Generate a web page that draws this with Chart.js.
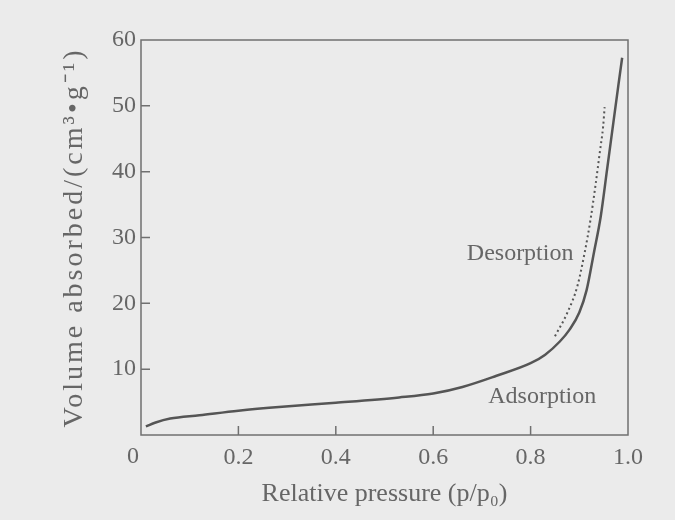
<!DOCTYPE html>
<html><head><meta charset="utf-8">
<script src="https://cdn.jsdelivr.net/npm/chart.js@4.4.1/dist/chart.umd.min.js"></script>
<style>html,body{margin:0;padding:0;background:#ebebeb;}canvas{display:block;}</style>
</head><body>
<canvas id="c" width="675" height="520"></canvas>
<script>
// ---- data ----
const adsorptionX = [0.01, 0.03, 0.06, 0.12, 0.20, 0.29, 0.40, 0.53, 0.60, 0.66, 0.73, 0.80, 0.83, 0.86, 0.88, 0.90, 0.915, 0.93, 0.944, 0.957, 0.97, 0.98, 0.988];
const adsorptionY = [1.3, 1.9, 2.5, 3.0, 3.7, 4.3, 4.9, 5.7, 6.3, 7.3, 9.0, 10.9, 12.2, 14.2, 16.0, 18.6, 22.0, 27.7, 33.2, 40.3, 47.5, 53.0, 57.3];
const desorptionX = [0.850, 0.875, 0.896, 0.911, 0.923, 0.933, 0.942, 0.949, 0.952];
const desorptionY = [15.0, 18.5, 22.6, 27.7, 32.7, 37.8, 42.9, 46.9, 49.8];
const xTickValues = [0, 0.2, 0.4, 0.6, 0.8, 1.0];
const xTickLabels = ['0', '0.2', '0.4', '0.6', '0.8', '1.0'];
const yTickValues = [0, 10, 20, 30, 40, 50, 60];
const yTickLabels = ['0', '10', '20', '30', '40', '50', '60'];
const seriesNames = ['Adsorption', 'Desorption'];
const xTitle = 'Relative pressure (p/p\u2080)';
const yTitle = 'Volume absorbed/(cm\u00B3\u2022g\u207B\u00B9)';

// ---- label anchors (data coordinates) and styles ----
const seriesLabelAnchors = [{x: 0.713, y: 4.9}, {x: 0.669, y: 26.6}];
const BG = '#ebebeb';
const TEXT = '#666666';
const LINE = '#555555';
const FRAME = '#707070';
const FONT = '"Liberation Serif", "Times New Roman", serif';

const pts = (xs, ys) => xs.map((x, i) => ({x, y: ys[i]}));

const decor = {
  id: 'decor',
  beforeDraw(chart) {
    const ctx = chart.ctx;
    ctx.save(); ctx.fillStyle = BG; ctx.fillRect(0, 0, chart.width, chart.height); ctx.restore();
    try { ctx.letterSpacing = '3px'; } catch (e) {}
  },
  beforeDatasetsDraw(chart) {
    try { chart.ctx.letterSpacing = '0px'; } catch (e) {}
  },
  afterDraw(chart) {
    const ctx = chart.ctx, a = chart.chartArea, xs = chart.scales.x, ys = chart.scales.y;
    ctx.save();
    ctx.strokeStyle = FRAME; ctx.lineWidth = 1.5;
    ctx.strokeRect(a.left, a.top, a.right - a.left, a.bottom - a.top);
    ctx.beginPath();
    xTickValues.forEach(v => { if (v > xs.min && v < xs.max) { const p = xs.getPixelForValue(v); ctx.moveTo(p, a.bottom); ctx.lineTo(p, a.bottom - 9); } });
    yTickValues.forEach(v => { if (v > ys.min && v < ys.max) { const p = ys.getPixelForValue(v); ctx.moveTo(a.left, p); ctx.lineTo(a.left + 9, p); } });
    ctx.stroke();
    ctx.fillStyle = TEXT;
    ctx.font = '24px ' + FONT;
    ctx.textAlign = 'left'; ctx.textBaseline = 'alphabetic';
    seriesNames.forEach((n, i) => {
      ctx.fillText(n, xs.getPixelForValue(seriesLabelAnchors[i].x), ys.getPixelForValue(seriesLabelAnchors[i].y));
    });
    ctx.textAlign = 'center';
    ctx.fillText(xTickLabels[0], xs.getPixelForValue(0) - 8, a.bottom + 28);
    ctx.restore();
  }
};

new Chart(document.getElementById('c'), {
  type: 'line',
  data: {
    datasets: [
      {label: seriesNames[0], data: pts(adsorptionX, adsorptionY), borderColor: LINE, borderWidth: 2.5, pointRadius: 0, cubicInterpolationMode: 'monotone', fill: false},
      {label: seriesNames[1], data: pts(desorptionX, desorptionY), borderColor: LINE, borderWidth: 2, borderDash: [2, 3], pointRadius: 0, cubicInterpolationMode: 'monotone', fill: false}
    ]
  },
  options: {
    responsive: false, animation: false, devicePixelRatio: 1,
    layout: {padding: {top: 40, right: 47, left: 0, bottom: 0}},
    plugins: {legend: {display: false}, tooltip: {enabled: false}},
    scales: {
      x: {
        type: 'linear', min: 0, max: 1,
        afterBuildTicks: s => { s.ticks = xTickValues.map(v => ({value: v})); },
        afterFit: s => { s.height = 85; },
        grid: {display: false, drawTicks: false, z: 1},
        border: {display: false},
        ticks: {
          padding: 8, maxRotation: 0, autoSkip: false, color: TEXT, z: 1,
          font: {family: FONT, size: 24},
          callback: v => { const i = xTickValues.findIndex(t => Math.abs(t - v) < 1e-9); return i <= 0 ? '' : xTickLabels[i]; }
        },
        title: {display: true, text: xTitle, color: TEXT, font: {family: FONT, size: 26}, padding: {top: 0, bottom: 10}}
      },
      y: {
        min: 0, max: 60,
        afterBuildTicks: s => { s.ticks = yTickValues.map(v => ({value: v})); },
        afterFit: s => { s.width = 141; },
        grid: {display: false, drawTicks: false},
        border: {display: false},
        ticks: {
          padding: 5, color: TEXT, z: 1,
          font: {family: FONT, size: 24},
          callback: v => { const i = yTickValues.indexOf(v); return i <= 0 ? '' : yTickLabels[i]; }
        },
        title: {display: true, text: yTitle, color: TEXT, font: {family: FONT, size: 28}, padding: {top: 58, bottom: 0}}
      }
    }
  },
  plugins: [decor]
});
</script>
</body></html>
